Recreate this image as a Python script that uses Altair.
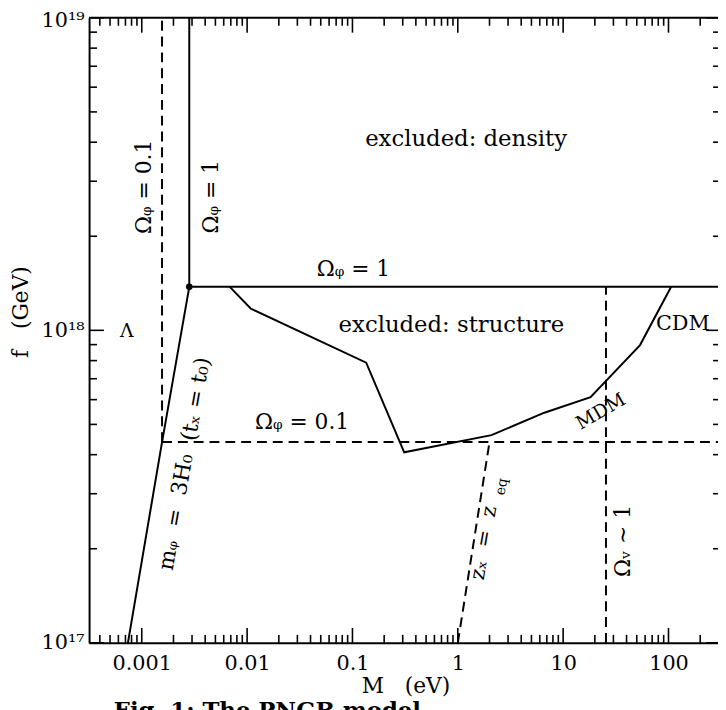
import altair as alt
import pandas as pd

FONT = "DejaVu Serif"

# ---- axis extents (log-log) ----
M_MIN, M_MAX = 10 ** -3.5, 10 ** 2.47
F_MIN, F_MAX = 1e17, 1e19
W, H = 636, 632

# ---- tick values ----
x_major = [0.001, 0.01, 0.1, 1, 10, 100]
x_minor = [k * 10.0 ** e for e in range(-4, 3) for k in range(2, 10)
           if M_MIN <= k * 10.0 ** e <= M_MAX]
y_major = [1e17, 1e18, 1e19]
y_minor = [k * 10.0 ** e for e in (17, 18) for k in range(2, 10)]

# ---- curves (M in eV, f in GeV) ----
# m_phi = 3 H0 (t_x = t0), solid
mh_M = [7.39e-4, 1.558e-3, 2.825e-3]
mh_f = [1e17, 4.39e17, 1.378e18]
# Omega_phi = 1, solid (vertical then horizontal)
o1v_M = [2.825e-3, 2.825e-3]
o1v_f = [1.378e18, 1e19]
o1h_M = [2.825e-3, M_MAX]
o1h_f = [1.378e18, 1.378e18]
# Omega_phi = 0.1, dashed (vertical then horizontal)
o01v_M = [1.558e-3, 1.558e-3]
o01v_f = [4.39e17, 1e19]
o01h_M = [1.558e-3, M_MAX]
o01h_f = [4.39e17, 4.39e17]
# structure exclusion boundary, solid
st_M = [6.85e-3, 0.0108, 0.135, 0.310, 2.09, 6.63, 18.2, 53.7, 106.0]
st_f = [1.378e18, 1.174e18, 7.88e17, 4.07e17, 4.62e17, 5.45e17, 6.11e17, 8.97e17, 1.378e18]
# z_x = z_eq, dashed
zq_M = [1.0, 2.0]
zq_f = [1e17, 4.39e17]
# Omega_nu ~ 1, dashed
on_M = [25.5, 25.5]
on_f = [1e17, 1.378e18]
# corner point
dot_M = [2.825e-3]
dot_f = [1.378e18]

# ---- annotations ----
NB = "\u00a0"
lab_text = ["excluded:" + NB + "density", "excluded:" + NB + "structure",
            "Ωᵩ" + NB + "=" + NB + "1", "Ωᵩ" + NB + "=" + NB + "0.1",
            "CDM", "Λ", "Ωᵩ" + NB + "=" + NB + "0.1", "Ωᵩ" + NB + "=" + NB + "1",
            "mᵩ" + NB * 2 + "=" + NB * 2 + "3H₀" + NB * 2 + "(tₓ" + NB + "=" + NB + "t₀)", "MDM",
            "zₓ" + NB * 2 + "=" + NB * 2 + "z", "eq", "Ωᵥ" + NB + "∼" + NB + "1"]
lab_M = [1.20, 0.869, 0.1022, 0.0332, 136.8, 7.22e-4, 1.044e-3, 4.54e-3,
         2.535e-3, 22.75, 1.774, 2.617, 37.4]
lab_f = [4.08e18, 1.037e18, 1.571e18, 5.08e17, 1.045e18, 9.93e17, 2.877e18, 2.674e18,
         3.74e17, 5.50e17, 2.087e17, 3.16e17, 2.118e17]
lab_angle = [0, 0, 0, 0, 0, 0, 270, 270, 280, 330, 280, 280, 270]
lab_size = [23, 23, 22, 22, 21, 19, 22, 22, 22, 19, 21, 14, 22]

xs = alt.Scale(type="log", domain=[M_MIN, M_MAX], nice=False)
ys = alt.Scale(type="log", domain=[F_MIN, F_MAX], nice=False)

x_axis = alt.Axis(values=x_major, format="~g", ticks=False, tickSize=0, grid=False,
                  domainColor="black", domainWidth=2, labelFont=FONT, labelFontSize=21,
                  labelColor="black", labelPadding=10, labelFlush=False, labelOverlap=False,
                  title="M" + NB * 3 + "(eV)", titleFont=FONT, titleFontSize=22,
                  titleFontWeight="normal", titleColor="black", titleX=320, titleY=43,
                  titleBaseline="middle")
y_axis = alt.Axis(values=y_major,
                  labelExpr="datum.value > 5e18 ? '10¹⁹' : (datum.value > 5e17 ? '10¹⁸' : '10¹⁷')",
                  ticks=False, tickSize=0, grid=False, domainColor="black", domainWidth=2,
                  labelFont=FONT, labelFontSize=21, labelColor="black", labelPadding=5,
                  labelFlush=False, labelOverlap=False,
                  labelOffset={"condition": {"test": "datum.value > 5e18", "value": 3}, "value": 0},
                  title="f" + NB * 3 + "(GeV)", titleFont=FONT, titleFontSize=22,
                  titleFontWeight="normal", titleColor="black", titleX=-69, titleY=297,
                  titleBaseline="middle", titleAngle=270)


def X(field="M"):
    return alt.X(f"{field}:Q", scale=xs, axis=x_axis)


def Y(field="f"):
    return alt.Y(f"{field}:Q", scale=ys, axis=y_axis)


def curve(Ms, fs, dashed=False):
    df = pd.DataFrame({"M": Ms, "f": fs, "i": list(range(len(Ms)))})
    kw = dict(color="black", strokeWidth=2)
    if dashed:
        kw["strokeDash"] = [10, 6]
    return alt.Chart(df).mark_line(**kw).encode(x=X(), y=Y(), order="i:Q")


layers = [
    curve(mh_M, mh_f),
    curve(o1v_M, o1v_f),
    curve(o1h_M, o1h_f),
    curve(o01v_M, o01v_f, True),
    curve(o01h_M, o01h_f, True),
    curve(st_M, st_f),
    curve(zq_M, zq_f, True),
    curve(on_M, on_f, True),
    alt.Chart(pd.DataFrame({"M": dot_M, "f": dot_f})).mark_circle(
        color="black", size=45, opacity=1).encode(x=X(), y=Y()),
]

# top frame line
top_df = pd.DataFrame({"M": [M_MIN], "M2": [M_MAX], "f": [F_MAX]})
layers.append(alt.Chart(top_df).mark_rule(color="black", strokeWidth=2).encode(
    x=X(), x2="M2:Q", y=Y()))


# inward ticks
def xticks(vals, length):
    df = pd.DataFrame({"M": vals})
    bottom = alt.Chart(df).mark_rule(color="black", strokeWidth=1.6).encode(
        x=X(), y=alt.value(H), y2=alt.value(H - length))
    top = alt.Chart(df).mark_rule(color="black", strokeWidth=1.6).encode(
        x=X(), y=alt.value(0), y2=alt.value(length))
    return [bottom, top]


def yticks(vals, length):
    df = pd.DataFrame({"f": vals})
    left = alt.Chart(df).mark_rule(color="black", strokeWidth=1.6).encode(
        y=Y(), x=alt.value(0), x2=alt.value(length))
    # the right frame sits just past the page edge; only the tick ends show
    right = alt.Chart(df).mark_rule(color="black", strokeWidth=1.6).encode(
        y=Y(), x=alt.value(W + 3), x2=alt.value(W + 3 - length))
    return [left, right]


layers += xticks(x_major, 15) + xticks(x_minor, 8)
layers += yticks(y_major, 15) + yticks(y_minor, 8)

lab_df = pd.DataFrame({"text": lab_text, "M": lab_M, "f": lab_f,
                       "angle": lab_angle, "size": lab_size})
layers.append(alt.Chart(lab_df).mark_text(font=FONT, color="black", align="center",
                                          baseline="middle").encode(
    x=X(), y=Y(), text="text:N",
    angle=alt.Angle("angle:Q", scale=None),
    size=alt.Size("size:Q", scale=None)))

# caption (mostly cut off by the page edge, as in the scan)
cap_df = pd.DataFrame({"text": ["Fig." + NB + "1:" + NB + "The" + NB + "PNGB" + NB + "model"]})
layers.append(alt.Chart(cap_df).mark_text(font=FONT, fontSize=23, fontWeight="bold",
                                          color="black", align="left",
                                          baseline="alphabetic").encode(
    text="text:N", x=alt.value(25), y=alt.value(708)))

chart = alt.layer(*layers).properties(
    width=W, height=H,
    autosize=alt.AutoSizeParams(type="none"),
    padding={"left": 82, "top": 6, "right": 0, "bottom": 64},
    background="white",
).configure_view(stroke=None)

chart.save("out.html", embed_options={"renderer": "svg", "actions": False})
